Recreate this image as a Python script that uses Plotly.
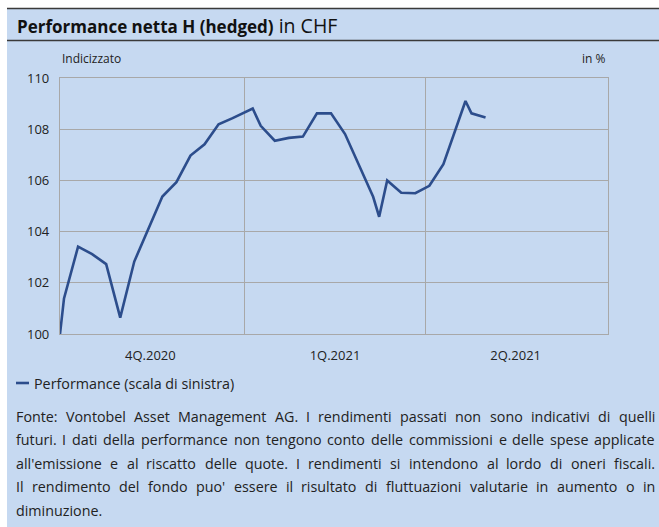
import plotly.graph_objects as go

# ---- data ----
dates = ["2020-10-01", "2020-10-03", "2020-10-10", "2020-10-17", "2020-10-24", "2020-10-31",
         "2020-11-07", "2020-11-14", "2020-11-21", "2020-11-28", "2020-12-05", "2020-12-12",
         "2020-12-19", "2020-12-26", "2021-01-05", "2021-01-09", "2021-01-16", "2021-01-23",
         "2021-01-30", "2021-02-06", "2021-02-13", "2021-02-20", "2021-03-06", "2021-03-09",
         "2021-03-13", "2021-03-20", "2021-03-27", "2021-04-03", "2021-04-10", "2021-04-21",
         "2021-04-24", "2021-05-01"]
performance = [100.00, 101.39, 103.41, 103.12, 102.73, 100.64,
               102.83, 104.13, 105.37, 105.93, 106.97, 107.41,
               108.19, 108.43, 108.81, 108.13, 107.55, 107.66,
               107.71, 108.62, 108.62, 107.81, 105.36, 104.58,
               106.00, 105.52, 105.50, 105.79, 106.63, 109.10,
               108.62, 108.46]
quarter_label_pos = ["2020-11-15", "2021-02-15", "2021-05-16"]
quarter_labels = ["4Q.2020", "1Q.2021", "2Q.2021"]
quarter_bounds = ["2021-01-01", "2021-04-01"]
y_ticks = [100, 102, 104, 106, 108, 110]

title_bold = "Performance netta H (hedged)"
title_rest = " in CHF"
legend_text = "Performance (scala di sinistra)"
footnote_lines = [
    "Fonte: Vontobel Asset Management AG. I rendimenti passati non sono indicativi di quelli",
    "futuri. I dati della performance non tengono conto delle commissioni e delle spese applicate",
    "all'emissione e al riscatto delle quote. I rendimenti si intendono al lordo di oneri fiscali.",
    "Il rendimento del fondo puo' essere il risultato di fluttuazioni valutarie in aumento o in",
    "diminuzione.",
]

# ---- style ----
W, H = 659, 527
ML, MR, MT, MB = 60, 51, 78, 193
PW, PH = W - ML - MR, H - MT - MB
BG = "#C6D9F1"
LINE = "#2C4D8C"
GRID = "#A8A8A8"
FONT = "Open Sans"
TXT = "#222222"
FOOT_SIZE = 14.3


def px(x):
    return (x - ML) / PW


def py(y):
    return (H - MB - y) / PH


# approximate Open Sans advance widths (em) used for justified layout
_W = {' ': .26, 'a': .556, 'b': .613, 'c': .48, 'd': .613, 'e': .561, 'f': .336, 'g': .547,
      'h': .614, 'i': .252, 'j': .252, 'k': .529, 'l': .252, 'm': .931, 'n': .614, 'o': .603,
      'p': .613, 'q': .613, 'r': .409, 's': .477, 't': .353, 'u': .614, 'v': .501, 'w': .778,
      'x': .517, 'y': .501, 'z': .468, 'A': .633, 'B': .647, 'C': .631, 'D': .727, 'E': .556,
      'F': .519, 'G': .728, 'H': .738, 'I': .279, 'J': .267, 'K': .614, 'L': .519, 'M': .907,
      'N': .764, 'O': .779, 'P': .602, 'Q': .779, 'R': .618, 'S': .549, 'T': .553, 'U': .729,
      'V': .58, 'W': .9, 'X': .575, 'Y': .556, 'Z': .572, '.': .258, ',': .258, ':': .258,
      "'": .221, '(': .296, ')': .296, '-': .322}


def text_w(s, size):
    return sum(_W.get(c, .572) for c in s) * size


fig = go.Figure()
fig.add_trace(go.Scatter(x=dates, y=performance, mode="lines",
                         line=dict(color=LINE, width=2.6), showlegend=False,
                         name=legend_text))

shapes = [
    dict(type="rect", xref="paper", yref="paper", x0=px(0), x1=px(W), y0=py(0), y1=py(8),
         fillcolor="white", line=dict(width=0), layer="below"),
    dict(type="rect", xref="paper", yref="paper", x0=px(0), x1=px(7), y0=py(0), y1=py(H),
         fillcolor="white", line=dict(width=0), layer="below"),
    dict(type="line", xref="paper", yref="paper", x0=px(7), x1=px(W), y0=py(8.5), y1=py(8.5),
         line=dict(color="#3A3A3A", width=1.6)),
    dict(type="line", xref="paper", yref="paper", x0=px(7), x1=px(W), y0=py(40.5), y1=py(40.5),
         line=dict(color="#3A3A3A", width=1.6)),
    dict(type="line", xref="paper", yref="paper", x0=px(16), x1=px(29), y0=py(383), y1=py(383),
         line=dict(color=LINE, width=2.6)),
]

annotations = [
    dict(text=f"<b>{title_bold}</b><span style='font-size:19.5px'>{title_rest}</span>",
         xref="paper", yref="paper",
         x=px(15), y=py(25), xanchor="left", yanchor="middle", showarrow=False,
         font=dict(family=FONT, size=17, color="#111111")),
    dict(text="Indicizzato", xref="paper", yref="paper", x=px(60), y=py(58),
         xanchor="left", yanchor="middle", showarrow=False,
         font=dict(family=FONT, size=12, color=TXT)),
    dict(text="in %", xref="paper", yref="paper", x=px(608), y=py(58),
         xanchor="right", yanchor="middle", showarrow=False,
         font=dict(family=FONT, size=12, color=TXT)),
    dict(text=legend_text, xref="paper", yref="paper", x=px(32), y=py(383),
         xanchor="left", yanchor="middle", showarrow=False,
         font=dict(family=FONT, size=FOOT_SIZE, color=TXT)),
]

# justified footnote (last line left aligned)
x_left, x_right = 16, 655
foot_y = [416, 439.5, 463, 486.5, 510]
for i, (line_txt, yy) in enumerate(zip(footnote_lines, foot_y)):
    words = line_txt.split(" ")
    widths = [text_w(w, FOOT_SIZE) for w in words]
    if i < len(footnote_lines) - 1 and len(words) > 1:
        gap = (x_right - x_left - sum(widths)) / (len(words) - 1)
    else:
        gap = _W[' '] * FOOT_SIZE
    xcur = x_left
    for w, wd in zip(words, widths):
        annotations.append(dict(text=w, xref="paper", yref="paper", x=px(xcur), y=py(yy),
                                xanchor="left", yanchor="middle", showarrow=False,
                                borderpad=0, borderwidth=0,
                                font=dict(family=FONT, size=FOOT_SIZE, color=TXT)))
        xcur += wd + gap

fig.update_layout(
    width=W, height=H,
    margin=dict(l=ML, r=MR, t=MT, b=MB, pad=0),
    paper_bgcolor=BG, plot_bgcolor=BG,
    shapes=shapes, annotations=annotations,
    showlegend=False,
    xaxis=dict(range=["2020-10-01", "2021-07-01"], type="date",
               tickmode="array", tickvals=quarter_label_pos, ticktext=quarter_labels,
               showgrid=False, ticks="", ticklabelstandoff=9,
               tickfont=dict(family=FONT, size=13, color=TXT),
               showline=True, linecolor=GRID, linewidth=1.2, mirror=True,
               minor=dict(tickmode="array", tickvals=quarter_bounds, showgrid=True,
                          gridcolor=GRID, gridwidth=1.2, ticks=""),
               zeroline=False, fixedrange=True),
    yaxis=dict(range=[100, 110], tickmode="array", tickvals=y_ticks,
               showgrid=True, gridcolor=GRID, gridwidth=1.2, ticks="",
               ticklabelstandoff=7,
               tickfont=dict(family=FONT, size=13, color=TXT),
               showline=True, linecolor=GRID, linewidth=1.2, mirror=True,
               zeroline=False, fixedrange=True),
)

fig.write_html("out.html")
